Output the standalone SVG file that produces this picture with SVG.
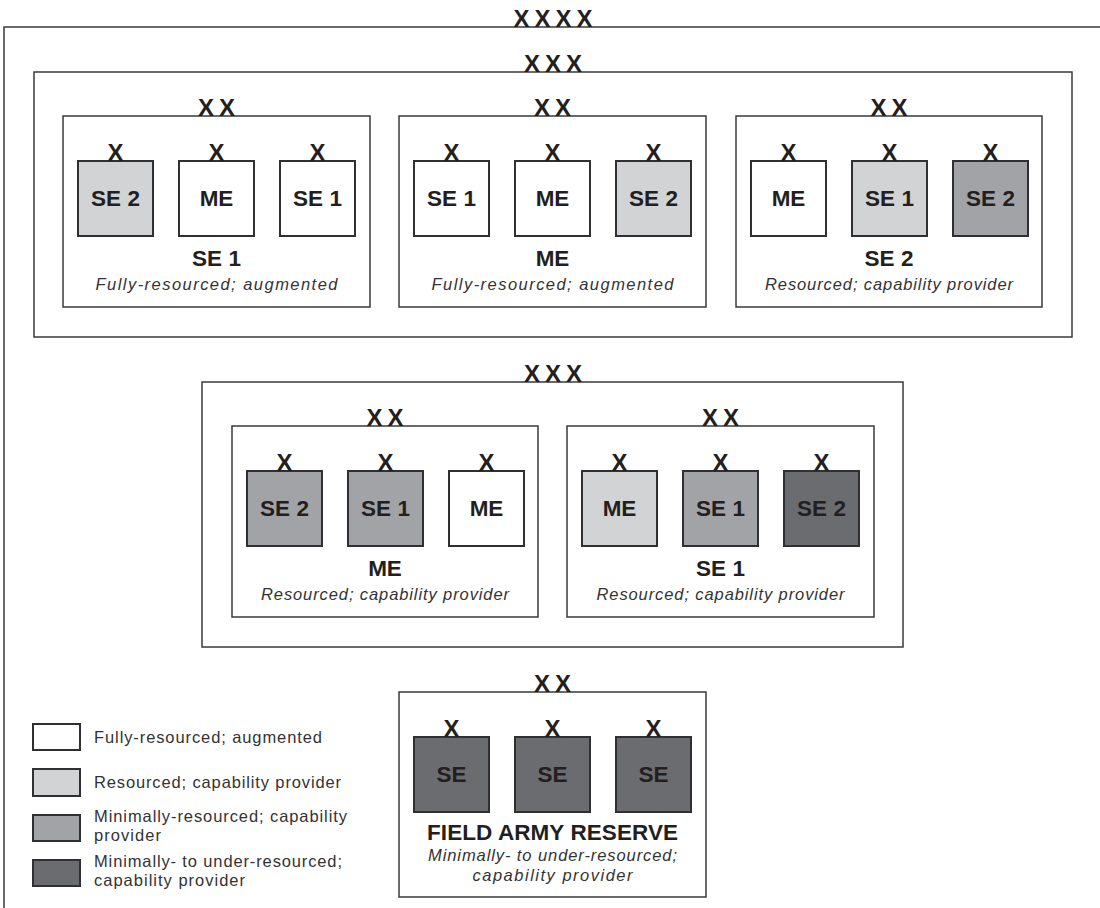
<svg xmlns="http://www.w3.org/2000/svg" width="1100" height="908" viewBox="0 0 1100 908">
<style>
text{font-family:"Liberation Sans",Arial,Helvetica,sans-serif;fill:#231f20}
.frame{fill:#fff;stroke:#3a3a3c;stroke-width:1.5}
.unit{stroke:#303032;stroke-width:2}
.w{fill:#fff}.l{fill:#d1d3d4}.m{fill:#a2a3a6}.d{fill:#6b6c70}
.ech{font-size:24px;font-weight:bold;text-anchor:middle;letter-spacing:5px}
.x{font-size:24px;font-weight:bold;text-anchor:middle}
.lbl{font-size:22.5px;font-weight:bold;text-anchor:middle}
.it{font-size:16.5px;font-style:italic;text-anchor:middle;fill:#333}
.lg{font-size:16.5px;fill:#333}
</style>
<rect width="1100" height="908" fill="#fff"/>

<g id="army">
<path d="M1100,27 H4 V908" fill="none" stroke="#3a3a3c" stroke-width="1.5"/>
<text class="ech" x="555.5" y="27">XXXX</text>
</g>

<g id="corps1">
<rect class="frame" x="34" y="72" width="1038" height="265"/>
<text class="ech" x="555.5" y="72">XXX</text>

<g id="div-se1" transform="translate(63,116)">
<rect class="frame" x="0" y="0" width="307" height="191"/>
<text class="ech" x="156" y="0">XX</text>
<rect class="unit l" x="15" y="45" width="75" height="75"/>
<rect class="unit w" x="116" y="45" width="75" height="75"/>
<rect class="unit w" x="217" y="45" width="75" height="75"/>
<text class="x" x="52.5" y="45">X</text><text class="x" x="153.5" y="45">X</text><text class="x" x="254.5" y="45">X</text>
<text class="lbl" x="52.5" y="90">SE 2</text><text class="lbl" x="153.5" y="90">ME</text><text class="lbl" x="254.5" y="90">SE 1</text>
<text class="lbl" x="153.5" y="150">SE 1</text>
<text class="it" x="153.5" y="174" textLength="242" lengthAdjust="spacing">Fully-resourced; augmented</text>
</g>

<g id="div-me" transform="translate(399,116)">
<rect class="frame" x="0" y="0" width="307" height="191"/>
<text class="ech" x="156" y="0">XX</text>
<rect class="unit w" x="15" y="45" width="75" height="75"/>
<rect class="unit w" x="116" y="45" width="75" height="75"/>
<rect class="unit l" x="217" y="45" width="75" height="75"/>
<text class="x" x="52.5" y="45">X</text><text class="x" x="153.5" y="45">X</text><text class="x" x="254.5" y="45">X</text>
<text class="lbl" x="52.5" y="90">SE 1</text><text class="lbl" x="153.5" y="90">ME</text><text class="lbl" x="254.5" y="90">SE 2</text>
<text class="lbl" x="153.5" y="150">ME</text>
<text class="it" x="153.5" y="174" textLength="242" lengthAdjust="spacing">Fully-resourced; augmented</text>
</g>

<g id="div-se2" transform="translate(736,116)">
<rect class="frame" x="0" y="0" width="306" height="191"/>
<text class="ech" x="155.5" y="0">XX</text>
<rect class="unit w" x="15" y="45" width="75" height="75"/>
<rect class="unit l" x="116" y="45" width="75" height="75"/>
<rect class="unit m" x="217" y="45" width="75" height="75"/>
<text class="x" x="52.5" y="45">X</text><text class="x" x="153.5" y="45">X</text><text class="x" x="254.5" y="45">X</text>
<text class="lbl" x="52.5" y="90">ME</text><text class="lbl" x="153.5" y="90">SE 1</text><text class="lbl" x="254.5" y="90">SE 2</text>
<text class="lbl" x="153" y="150">SE 2</text>
<text class="it" x="153" y="174" textLength="248" lengthAdjust="spacing">Resourced; capability provider</text>
</g>
</g>

<g id="corps2">
<rect class="frame" x="202" y="382" width="701" height="265"/>
<text class="ech" x="555.5" y="382">XXX</text>

<g id="div2-me" transform="translate(232,426)">
<rect class="frame" x="0" y="0" width="306" height="191"/>
<text class="ech" x="155.5" y="0">XX</text>
<rect class="unit m" x="15" y="45" width="75" height="75"/>
<rect class="unit m" x="116" y="45" width="75" height="75"/>
<rect class="unit w" x="217" y="45" width="75" height="75"/>
<text class="x" x="52.5" y="45">X</text><text class="x" x="153.5" y="45">X</text><text class="x" x="254.5" y="45">X</text>
<text class="lbl" x="52.5" y="90">SE 2</text><text class="lbl" x="153.5" y="90">SE 1</text><text class="lbl" x="254.5" y="90">ME</text>
<text class="lbl" x="153" y="150">ME</text>
<text class="it" x="153" y="174" textLength="248" lengthAdjust="spacing">Resourced; capability provider</text>
</g>

<g id="div2-se1" transform="translate(567,426)">
<rect class="frame" x="0" y="0" width="307" height="191"/>
<text class="ech" x="156" y="0">XX</text>
<rect class="unit l" x="15" y="45" width="75" height="75"/>
<rect class="unit m" x="116" y="45" width="75" height="75"/>
<rect class="unit d" x="217" y="45" width="75" height="75"/>
<text class="x" x="52.5" y="45">X</text><text class="x" x="153.5" y="45">X</text><text class="x" x="254.5" y="45">X</text>
<text class="lbl" x="52.5" y="90">ME</text><text class="lbl" x="153.5" y="90">SE 1</text><text class="lbl" x="254.5" y="90">SE 2</text>
<text class="lbl" x="153.5" y="150">SE 1</text>
<text class="it" x="153.5" y="174" textLength="248" lengthAdjust="spacing">Resourced; capability provider</text>
</g>
</g>

<g id="field-army-reserve" transform="translate(399,692)">
<rect class="frame" x="0" y="0" width="307" height="205"/>
<text class="ech" x="156" y="0">XX</text>
<rect class="unit d" x="15" y="45" width="75" height="75"/>
<rect class="unit d" x="116" y="45" width="75" height="75"/>
<rect class="unit d" x="217" y="45" width="75" height="75"/>
<text class="x" x="52.5" y="45">X</text><text class="x" x="153.5" y="45">X</text><text class="x" x="254.5" y="45">X</text>
<text class="lbl" x="52.5" y="90">SE</text><text class="lbl" x="153.5" y="90">SE</text><text class="lbl" x="254.5" y="90">SE</text>
<text class="lbl" x="153.5" y="148" textLength="251" lengthAdjust="spacing">FIELD ARMY RESERVE</text>
<text class="it" x="153.5" y="169" textLength="249" lengthAdjust="spacing">Minimally- to under-resourced;</text>
<text class="it" x="153.5" y="189" textLength="160" lengthAdjust="spacing">capability provider</text>
</g>

<g id="legend">
<rect class="unit w" x="33" y="724" width="47" height="26"/>
<rect class="unit l" x="33" y="769" width="47" height="27"/>
<rect class="unit m" x="33" y="815" width="47" height="26"/>
<rect class="unit d" x="33" y="860" width="47" height="26"/>
<text class="lg" x="94" y="743" textLength="228" lengthAdjust="spacing">Fully-resourced; augmented</text>
<text class="lg" x="94" y="788" textLength="247" lengthAdjust="spacing">Resourced; capability provider</text>
<text class="lg" x="94" y="822" textLength="253" lengthAdjust="spacing">Minimally-resourced; capability</text>
<text class="lg" x="94" y="841" textLength="67" lengthAdjust="spacing">provider</text>
<text class="lg" x="94" y="867" textLength="248" lengthAdjust="spacing">Minimally- to under-resourced;</text>
<text class="lg" x="94" y="886" textLength="151" lengthAdjust="spacing">capability provider</text>
</g>
</svg>
